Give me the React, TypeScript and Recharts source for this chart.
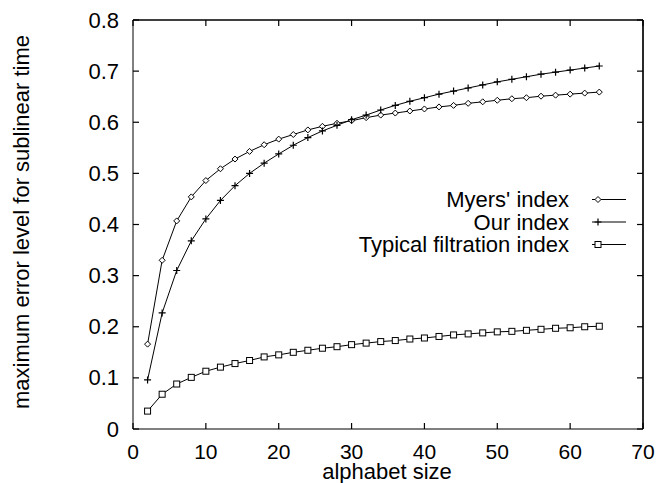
import { LineChart, Line, XAxis, YAxis, Label, ReferenceLine } from "recharts";

const alphabetSizes = [2, 4, 6, 8, 10, 12, 14, 16, 18, 20, 22, 24, 26, 28, 30, 32, 34, 36, 38, 40, 42, 44, 46, 48, 50, 52, 54, 56, 58, 60, 62, 64];
const myersIndex = [0.166, 0.330, 0.407, 0.454, 0.486, 0.509, 0.528, 0.543, 0.556, 0.567, 0.576, 0.585, 0.592, 0.598, 0.603, 0.609, 0.614, 0.618, 0.622, 0.626, 0.630, 0.633, 0.637, 0.640, 0.643, 0.646, 0.648, 0.651, 0.653, 0.655, 0.657, 0.659];
const ourIndex = [0.096, 0.227, 0.310, 0.368, 0.411, 0.447, 0.476, 0.500, 0.520, 0.538, 0.555, 0.570, 0.583, 0.594, 0.605, 0.614, 0.624, 0.633, 0.641, 0.648, 0.655, 0.661, 0.667, 0.673, 0.679, 0.684, 0.689, 0.694, 0.698, 0.702, 0.706, 0.710];
const typicalIndex = [0.035, 0.068, 0.088, 0.101, 0.113, 0.121, 0.128, 0.134, 0.141, 0.145, 0.150, 0.154, 0.158, 0.161, 0.165, 0.168, 0.171, 0.173, 0.176, 0.178, 0.181, 0.184, 0.186, 0.188, 0.190, 0.191, 0.193, 0.195, 0.197, 0.198, 0.200, 0.201];

const xTicks = [0, 10, 20, 30, 40, 50, 60, 70];
const yTicks = [0, 0.1, 0.2, 0.3, 0.4, 0.5, 0.6, 0.7, 0.8];

const seriesNames = ["Myers' index", "Our index", "Typical filtration index"];

const data = alphabetSizes.map((x, i) => ({
  x,
  myers: myersIndex[i],
  ours: ourIndex[i],
  typical: typicalIndex[i],
}));

const FONT = "'Liberation Sans', Arial, Helvetica, sans-serif";
const TICK = 6;

function Diamond({ cx, cy }: { cx: number; cy: number }) {
  const r = 3;
  return (
    <path
      d={`M${cx},${cy - r}L${cx + r},${cy}L${cx},${cy + r}L${cx - r},${cy}Z`}
      fill="white"
      stroke="black"
      strokeWidth={1}
    />
  );
}

function Plus({ cx, cy }: { cx: number; cy: number }) {
  const r = 3.5;
  return (
    <path
      d={`M${cx - r},${cy}L${cx + r},${cy}M${cx},${cy - r}L${cx},${cy + r}`}
      stroke="black"
      strokeWidth={1.2}
    />
  );
}

function Square({ cx, cy }: { cx: number; cy: number }) {
  const r = 3;
  return (
    <rect x={cx - r} y={cy - r} width={2 * r} height={2 * r} fill="white" stroke="black" strokeWidth={1} />
  );
}

const markers = [Diamond, Plus, Square];

function BottomTick(props: any) {
  const { x, y, payload } = props;
  return (
    <g>
      <rect x={x - 0.6} y={y - TICK} width={1.2} height={TICK} fill="black" />
      <text x={x} y={y + 29.5} textAnchor="middle" fontSize={21} fontFamily={FONT} fill="black">
        {payload.value}
      </text>
    </g>
  );
}

function TopTick(props: any) {
  const { x, y } = props;
  return <rect x={x - 0.6} y={y} width={1.2} height={TICK} fill="black" />;
}

function LeftTick(props: any) {
  const { x, y, payload } = props;
  return (
    <g>
      <rect x={x} y={y - 0.6} width={TICK} height={1.2} fill="black" />
      <text x={x - 14} y={y} textAnchor="end" dominantBaseline="central" fontSize={22} fontFamily={FONT} fill="black">
        {payload.value === 0 ? "0" : payload.value.toFixed(1)}
      </text>
    </g>
  );
}

function RightTick(props: any) {
  const { x, y } = props;
  return <rect x={x - TICK} y={y - 0.6} width={TICK} height={1.2} fill="black" />;
}

function KeyBox() {
  const rows = [199.5, 222, 244.5];
  return (
    <g>
      {seriesNames.map((name, i) => {
        const M = markers[i];
        return (
          <g key={name}>
            <text x={569} y={rows[i]} textAnchor="end" dominantBaseline="central" fontSize={22} fontFamily={FONT} fill="black">
              {name}
            </text>
            <path d={`M592,${rows[i]}H626`} stroke="black" strokeWidth={1} />
            <M cx={598} cy={rows[i]} />
          </g>
        );
      })}
    </g>
  );
}

export default function App() {
  return (
    <div style={{ position: "absolute", left: 0, top: 0, width: 657, height: 483, background: "white" }}>
      <LineChart width={657} height={483} data={data} margin={{ top: 19, right: 13, left: 0, bottom: 0 }}>
        <XAxis
          dataKey="x"
          type="number"
          domain={[0, 70]}
          ticks={xTicks}
          height={54}
          tickSize={0}
          tickMargin={0}
          tickLine={false}
          axisLine={{ stroke: "black" }}
          tick={<BottomTick />}
        >
          <Label
            content={() => (
              <text x={387} y={478.5} textAnchor="middle" fontSize={22} fontFamily={FONT} fill="black">
                alphabet size
              </text>
            )}
          />
        </XAxis>
        <XAxis
          xAxisId="top"
          orientation="top"
          dataKey="x"
          type="number"
          domain={[0, 70]}
          ticks={xTicks}
          height={1}
          tickSize={0}
          tickMargin={0}
          tickLine={false}
          axisLine={{ stroke: "black", strokeWidth: 1.2 }}
          tick={<TopTick />}
        />
        <YAxis
          type="number"
          domain={[0, 0.8]}
          ticks={yTicks}
          width={133}
          tickSize={0}
          tickMargin={0}
          tickLine={false}
          axisLine={{ stroke: "black" }}
          tick={<LeftTick />}
        >
          <Label
            content={() => (
              <text
                x={21}
                y={222}
                transform="rotate(-90 21 222)"
                textAnchor="middle"
                dominantBaseline="central"
                fontSize={22}
                fontFamily={FONT}
                fill="black"
              >
                maximum error level for sublinear time
              </text>
            )}
          />
        </YAxis>
        <YAxis
          yAxisId="right"
          orientation="right"
          type="number"
          domain={[0, 0.8]}
          ticks={yTicks}
          width={1}
          tickSize={0}
          tickMargin={0}
          tickLine={false}
          axisLine={{ stroke: "black", strokeWidth: 1.2 }}
          tick={<RightTick />}
        >
          <Label content={() => <KeyBox />} />
        </YAxis>
        <ReferenceLine y={0.8} stroke="black" strokeWidth={1.2} ifOverflow="visible" />
        <ReferenceLine x={70} stroke="black" strokeWidth={1.2} ifOverflow="visible" />
        <Line
          dataKey="myers"
          name={seriesNames[0]}
          stroke="black"
          strokeWidth={1}
          isAnimationActive={false}
          dot={(p: any) => <Diamond key={p.index} cx={p.cx} cy={p.cy} />}
        />
        <Line
          dataKey="ours"
          name={seriesNames[1]}
          xAxisId="top"
          yAxisId="right"
          stroke="black"
          strokeWidth={1}
          isAnimationActive={false}
          dot={(p: any) => <Plus key={p.index} cx={p.cx} cy={p.cy} />}
        />
        <Line
          dataKey="typical"
          name={seriesNames[2]}
          stroke="black"
          strokeWidth={1}
          isAnimationActive={false}
          dot={(p: any) => <Square key={p.index} cx={p.cx} cy={p.cy} />}
        />
      </LineChart>
    </div>
  );
}
